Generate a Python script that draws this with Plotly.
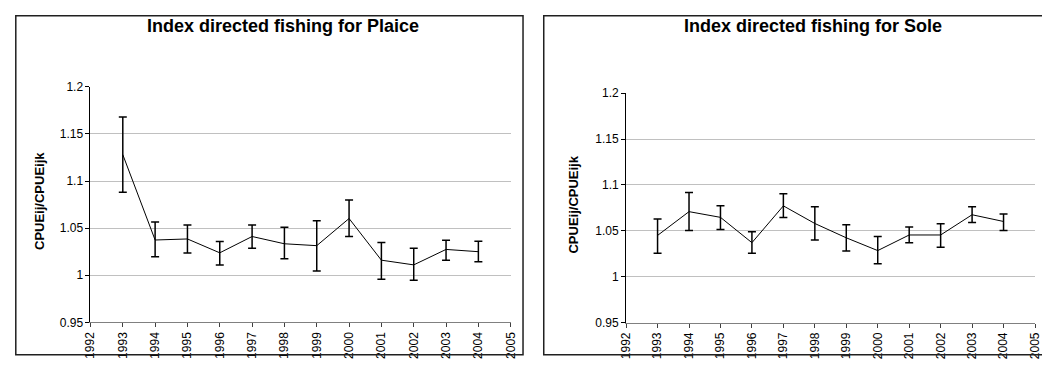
import plotly.graph_objects as go

years = [1993, 1994, 1995, 1996, 1997, 1998, 1999, 2000, 2001, 2002, 2003, 2004]

plaice_mean = [1.128, 1.0374, 1.0385, 1.0238, 1.0411, 1.0334, 1.0314, 1.0602, 1.016, 1.011, 1.0274, 1.025]
plaice_upper = [1.168, 1.0564, 1.0534, 1.0357, 1.0534, 1.051, 1.0578, 1.0798, 1.0347, 1.0286, 1.0371, 1.0361]
plaice_lower = [1.088, 1.0195, 1.0235, 1.011, 1.0286, 1.0174, 1.0045, 1.0411, 0.9957, 0.9947, 1.016, 1.0144]

sole_mean = [1.045, 1.0709, 1.0647, 1.0371, 1.0772, 1.058, 1.0424, 1.0285, 1.0455, 1.0455, 1.0675, 1.0602]
sole_upper = [1.063, 1.0918, 1.0772, 1.049, 1.0905, 1.0762, 1.0567, 1.0438, 1.0542, 1.0578, 1.0762, 1.0682]
sole_lower = [1.0256, 1.0504, 1.0515, 1.0256, 1.0644, 1.04, 1.028, 1.0142, 1.0371, 1.0322, 1.0591, 1.0504]

x_ticks = list(range(1992, 2006))
y_ticks = [0.95, 1.0, 1.05, 1.1, 1.15, 1.2]
y_tick_labels = ["0.95", "1", "1.05", "1.1", "1.15", "1.2"]

titles = ["Index directed fishing for Plaice", "Index directed fishing for Sole"]
y_title = "CPUEij/CPUEijk"

# the page keeps the browser's default 8px body margin, so the figure is sized
# to fill the 1050x371 window exactly together with that margin
PAGE_MARGIN = 8
FW, FH = 1050 - 2 * PAGE_MARGIN, 371 - 2 * PAGE_MARGIN
FONT = "Liberation Sans, Arial, sans-serif"


def sx(v):
    """screen x pixel -> paper fraction"""
    return (v - PAGE_MARGIN) / FW


def sy(v):
    """screen y pixel (from top) -> paper fraction"""
    return (FH - (v - PAGE_MARGIN)) / FH


fig = go.Figure()

series = [(plaice_mean, plaice_upper, plaice_lower), (sole_mean, sole_upper, sole_lower)]
for i, (m, u, l) in enumerate(series):
    sfx = "" if i == 0 else "2"
    fig.add_trace(go.Scatter(
        x=years, y=m, mode="lines",
        line=dict(color="black", width=1),
        error_y=dict(type="data", symmetric=False,
                     array=[a - b for a, b in zip(u, m)],
                     arrayminus=[b - c for b, c in zip(m, l)],
                     color="black", thickness=1.5, width=4),
        xaxis="x" + sfx, yaxis="y" + sfx, showlegend=False, hoverinfo="skip"))

common_x = dict(range=[1992, 2005], tickvals=x_ticks, ticktext=[str(t) for t in x_ticks],
                tickangle=-90, showgrid=False, zeroline=False, showline=True,
                linecolor="#808080", linewidth=1, ticks="outside", ticklen=4,
                tickcolor="#404040",
                tickfont=dict(family=FONT, size=12, color="black"))
common_y = dict(range=[0.95, 1.2], tickvals=y_ticks, ticktext=y_tick_labels,
                showgrid=True, gridcolor="#c0c0c0", gridwidth=1, zeroline=False,
                showline=True, linecolor="black", linewidth=1, ticks="outside",
                ticklen=4, tickcolor="black",
                tickfont=dict(family=FONT, size=12, color="black"))

fig.update_layout(
    width=FW, height=FH,
    margin=dict(l=0, r=0, t=0, b=0),
    paper_bgcolor="white", plot_bgcolor="white",
    xaxis=dict(domain=[sx(84.5), sx(510.5)], anchor="y", **common_x),
    yaxis=dict(domain=[sy(328), sy(82.7)], anchor="x", **common_y),
    xaxis2=dict(domain=[sx(627.5), min(1.0, sx(1048))], anchor="y2", **common_x),
    yaxis2=dict(domain=[sy(328.3), sy(89.3)], anchor="x2", **common_y),
    shapes=[
        dict(type="rect", xref="paper", yref="paper",
             x0=sx(8.8), x1=sx(523), y0=sy(361.8), y1=sy(8.8),
             line=dict(color="#202020", width=1.5)),
        dict(type="rect", xref="paper", yref="paper",
             x0=sx(544), x1=sx(1070), y0=sy(361.8), y1=sy(8.8),
             line=dict(color="#202020", width=1.5)),
    ],
    annotations=[
        dict(text="<b>" + titles[0] + "</b>", xref="paper", yref="paper",
             x=sx(280), y=sy(19), xanchor="center", yanchor="middle", showarrow=False,
             font=dict(family=FONT, size=18, color="black")),
        dict(text="<b>" + titles[1] + "</b>", xref="paper", yref="paper",
             x=sx(817), y=sy(19), xanchor="center", yanchor="middle", showarrow=False,
             font=dict(family=FONT, size=18, color="black")),
        dict(text="<b>" + y_title + "</b>", xref="paper", yref="paper", textangle=-90,
             x=sx(33), y=sy(202), xanchor="center", yanchor="middle", showarrow=False,
             font=dict(family=FONT, size=13, color="black")),
        dict(text="<b>" + y_title + "</b>", xref="paper", yref="paper", textangle=-90,
             x=sx(574), y=sy(205), xanchor="center", yanchor="middle", showarrow=False,
             font=dict(family=FONT, size=13, color="black")),
    ],
)

fig.write_html("out.html", config={"displayModeBar": False})
